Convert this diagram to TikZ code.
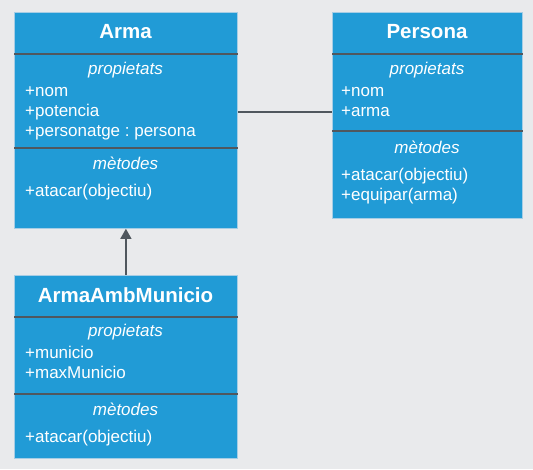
\documentclass[tikz,border=0pt]{standalone}
\usepackage{fontspec}
\setmainfont{Liberation Sans}
\usetikzlibrary{arrows.meta,positioning}

\definecolor{canvas}{HTML}{E9EAEC}
\definecolor{classblue}{HTML}{219BD6}
\definecolor{classedge}{HTML}{A6CDE5}
\definecolor{rulegray}{HTML}{50575E}

\begin{document}
\frenchspacing
\begin{tikzpicture}[x=1pt,y=-1pt,
    classbox/.style={draw=classedge,line width=0.8pt,fill=classblue,anchor=north west,inner sep=0pt},
    classname/.style={text=white,font=\fontsize{20.5}{24}\selectfont\bfseries,anchor=base},
    section/.style={text=white,font=\fontsize{17}{20}\selectfont\itshape,anchor=base},
    member/.style={text=white,font=\fontsize{17}{20}\selectfont,anchor=base west,inner xsep=0pt},
    divider/.style={rulegray,line width=1.3pt},
    link/.style={rulegray,line width=1.2pt}]
    \fill[canvas] (0,0) rectangle (533,469);
    \useasboundingbox (0,0) rectangle (533,469);

    % Arma
    \node[classbox,minimum width=223pt,minimum height=216pt] (arma) at (14,12) {};
    \draw[divider] (arma.west |- 0,54) -- (arma.east |- 0,54);
    \draw[divider] (arma.west |- 0,148) -- (arma.east |- 0,148);
    \node[classname] (armaName) at (125.5,38) {Arma};
    \node[section] (armaProps) at (125.5,74) {propietats};
    \node[member] (armaNom) at (25,96) {+nom};
    \node[member] (armaPot) at (25,116) {+potencia};
    \node[member] (armaPers) at (25,136) {+personatge : persona};
    \node[section] (armaMeth) at (125.5,169.5) {mètodes};
    \node[member] (armaAtac) at (25,196) {+atacar(objectiu)};

    % Persona
    \node[classbox,minimum width=190pt,minimum height=206pt] (persona) at (332,12) {};
    \draw[divider] (persona.west |- 0,54) -- (persona.east |- 0,54);
    \draw[divider] (persona.west |- 0,131) -- (persona.east |- 0,131);
    \node[classname] (persName) at (427,38) {Persona};
    \node[section] (persProps) at (427,74) {propietats};
    \node[member] (persNom) at (341,96) {+nom};
    \node[member] (persArma) at (341,116) {+arma};
    \node[section] (persMeth) at (427,153) {mètodes};
    \node[member] (persAtac) at (341,180) {+atacar(objectiu)};
    \node[member] (persEquip) at (341,200) {+equipar(arma)};

    % ArmaAmbMunicio
    \node[classbox,minimum width=223pt,minimum height=183pt] (mun) at (14,275) {};
    \draw[divider] (mun.west |- 0,317) -- (mun.east |- 0,317);
    \draw[divider] (mun.west |- 0,394) -- (mun.east |- 0,394);
    \node[classname] (munName) at (125.5,302) {ArmaAmbMunicio};
    \node[section] (munProps) at (125.5,336) {propietats};
    \node[member] (munMun) at (25,358) {+municio};
    \node[member] (munMax) at (25,378) {+maxMunicio};
    \node[section] (munMeth) at (125.5,415) {mètodes};
    \node[member] (munAtac) at (25,442) {+atacar(objectiu)};

    \draw[link] ([yshift=8.5pt]arma.east) -- ([yshift=3.5pt]persona.west);
    \draw[link,-{Triangle[width=11pt,length=10pt]}] (mun.north) -- (arma.south);
\end{tikzpicture}
\end{document}
